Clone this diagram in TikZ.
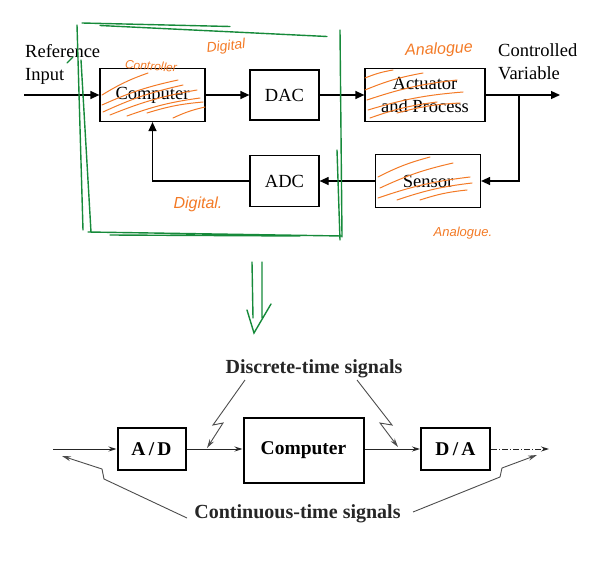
\documentclass[tikz,border=0pt]{standalone}
\usepackage{fontspec}
\setmainfont{Liberation Serif}
\newfontfamily\handfont{Liberation Sans}
\usetikzlibrary{arrows.meta}
\definecolor{pen}{RGB}{243,122,38}
\definecolor{marker}{RGB}{22,138,58}
\tikzset{blk/.style={draw,line width=1.2pt,inner sep=0pt,align=center,font=\fontsize{18.5}{22.5}\selectfont},
  sblk/.style={draw,line width=2pt,inner sep=0pt,font=\bfseries\fontsize{19.5}{22}\selectfont},
  arr/.style={line width=1.2pt,-{Triangle[length=9pt,width=8pt]}},
  sarr/.style={line width=1pt,black!85,-{Stealth[length=8pt,width=5pt]}},
  bolt/.style={line width=.9pt,black!70,-{Stealth[length=9pt,width=5pt]}},
  hatch/.style={pen,line width=1pt,line cap=round},
  hand/.style={pen,font=\handfont\itshape\fontsize{#1}{#1}\selectfont},
  greenline/.style={marker,line width=1.4pt,line cap=round}}
\begin{document}
\begin{tikzpicture}[x=1pt,y=-1pt]
\useasboundingbox(0,0)rectangle(615,586);
% top loop
\node[blk,minimum width=105,minimum height=53](comp)at(152.5,95){Computer};
\node[blk,minimum width=69,minimum height=50](dac)at(284.5,95){DAC};
\node[blk,minimum width=120,minimum height=53](act)at(425,95){Actuator\\and Process};
\node[blk,minimum width=105,minimum height=53](sens)at(428,181){Sensor};
\node[blk,minimum width=69,minimum height=51](adc)at(284.5,181){ADC};
\node[align=left,anchor=base west,inner sep=0pt,font=\fontsize{18.5}{22}\selectfont](refin)at(25,80){Reference\\Input};
\node[align=left,anchor=base west,inner sep=0pt,font=\fontsize{18.5}{22.5}\selectfont](ctrlvar)at(498,79){Controlled\\Variable};
\coordinate(inpt)at(24,95);\coordinate(br)at(519,95);\coordinate(outpt)at(560,95);
\draw[arr](inpt)--(comp);\draw[arr](comp)--(dac);\draw[arr](dac)--(act);
\draw[arr](act)--(outpt);\draw[arr](br)|-(sens);\draw[arr](sens)--(adc);\draw[arr](adc)-|(comp);
% pen notes
\foreach\a/\b/\c/\d in{102/95/148/73,102/105/178/80,103/112/183/85,110/115/197/90,127/116/200/98,147/113/203/102,173/118/205/107,
  365/78/393/70,365/90/423/73,367/100/457/80,368/110/463/92,370/118/437/102,397/113/460/103,
  378/177/430/157,380/188/453/163,378/198/470/177,397/200/472/183,420/200/467/190}
  \draw[hatch](\a,\b)to[bend left=6](\c,\d);
\node[hand=12,rotate=-4](hctl)at(151,66){Controller};
\node[hand=14,rotate=6](hdig)at(226,47){Digital};
\node[hand=16](hdigb)at(198,204){Digital.};
\node[hand=16,rotate=3](hana)at(439,50){Analogue};
\node[hand=13](hanab)at(463,233){Analogue.};
\draw[greenline](82,23)--(230,26.5)(100,25.5)--(327,36.5)(77,25)--(83,230)(81,60)--(91,232)
  (340,30)--(342,237)(337,150)--(340,240)(88,232)--(342,236)(110,235)--(300,236)(67,63)--(73,57);
\draw[greenline](252,262)--(253,318)(262,262)--(262,318)(247,310)--(254,333)--(271,304);
% sampled system
\node[sblk,minimum width=68,minimum height=42](ad)at(151.5,449){A\,/\,D};
\node[sblk,minimum width=120,minimum height=65](comp2)at(303.5,450){Computer};
\node[sblk,minimum width=69,minimum height=42](da)at(455.5,449){D\,/\,A};
\node[anchor=base,font=\bfseries\fontsize{20}{22}\selectfont,black!85](disc)at(314,373){Discrete-time signals};
\node[anchor=base,font=\bfseries\fontsize{20}{22}\selectfont,black!85](cont)at(297.5,518){Continuous-time signals};
\coordinate(in2)at(53,449);\coordinate(out2)at(549,449);
\draw[sarr](in2)--(ad);\draw[sarr](ad)--(ad-|comp2.west);\draw[sarr](comp2.east|-da)--(da);
\draw[sarr,dash pattern=on 6pt off 2pt on 1pt off 2pt](da)--(out2);
\coordinate(t1)at(207,448);\coordinate(t2)at(398,447);\coordinate(t3)at(62,456);\coordinate(t4)at(537,455);
\draw[bolt](245,380)--(213,425)--(223,423)--(t1);
\draw[bolt](357,380)--(392,425)--(380,423)--(t2);
\draw[bolt](187,518)--(104,479)--(102,469)--(t3);
\draw[bolt](413,512)--(500,477)--(502,468)--(t4);
\end{tikzpicture}
\end{document}
